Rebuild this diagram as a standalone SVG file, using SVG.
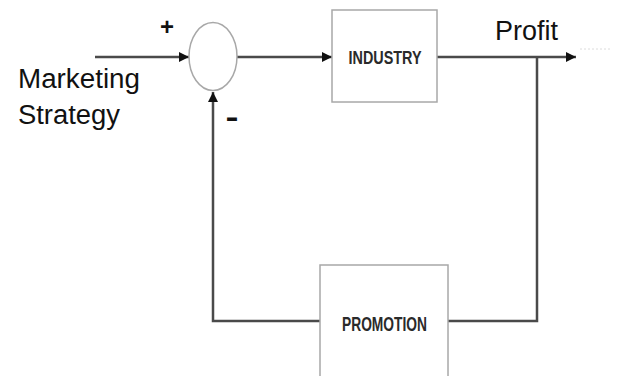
<svg xmlns="http://www.w3.org/2000/svg" width="618" height="376" viewBox="0 0 618 376">
<style>
.box{fill:#fff;stroke:#a8a8a8;stroke-width:1.5}
.wire{fill:none;stroke:#4a4a4a;stroke-width:2.5}
.lbl{font-family:"Liberation Sans",Arial,sans-serif;font-size:27px;fill:#111}
.blk{font-family:"Liberation Sans",Arial,sans-serif;font-weight:bold;fill:#2a2a2a;text-anchor:middle}
.sign{font-family:"Liberation Sans",Arial,sans-serif;font-weight:bold;fill:#111;text-anchor:middle}
</style>
<defs>
<marker id="ah" viewBox="0 0 10 10" refX="10" refY="5" markerWidth="4" markerHeight="4" orient="auto" markerUnits="strokeWidth">
<path d="M0,0 L10,5 L0,10 z" fill="#111"/>
</marker>
</defs>
<rect width="618" height="376" fill="#fff"/>
<g id="connectors">
<line class="wire" x1="95" y1="57" x2="189" y2="57" marker-end="url(#ah)"/>
<line class="wire" x1="237" y1="57" x2="332" y2="57" marker-end="url(#ah)"/>
<line class="wire" x1="437" y1="57" x2="576" y2="57" marker-end="url(#ah)"/>
<line x1="580" y1="49" x2="612" y2="49" stroke="#dcdcdc" stroke-width="1" stroke-dasharray="2,2"/>
<polyline class="wire" points="537,57 537,321 448,321"/>
<polyline class="wire" points="320,321 213,321 213,92" marker-end="url(#ah)"/>
</g>
<g id="summer">
<ellipse cx="213" cy="56.5" rx="24" ry="34" fill="#fff" stroke="#a8a8a8" stroke-width="1.5"/>
</g>
<g id="industry">
<rect class="box" x="332" y="10" width="105" height="92"/>
<text class="blk" x="385" y="64" font-size="18" textLength="73" lengthAdjust="spacingAndGlyphs">INDUSTRY</text>
</g>
<g id="promotion">
<rect class="box" x="320" y="265" width="128" height="115"/>
<text class="blk" x="384.5" y="331" font-size="20" textLength="85" lengthAdjust="spacingAndGlyphs">PROMOTION</text>
</g>
<g id="labels">
<text class="lbl" x="18" y="88" textLength="122" lengthAdjust="spacingAndGlyphs">Marketing</text>
<text class="lbl" x="18" y="124" textLength="102" lengthAdjust="spacingAndGlyphs">Strategy</text>
<text class="lbl" x="495" y="40" textLength="63" lengthAdjust="spacingAndGlyphs">Profit</text>
<text class="sign" x="167" y="35" font-size="24">+</text>
<text class="sign" x="232" y="127" font-size="30" textLength="13" lengthAdjust="spacingAndGlyphs">-</text>
</g>
</svg>
